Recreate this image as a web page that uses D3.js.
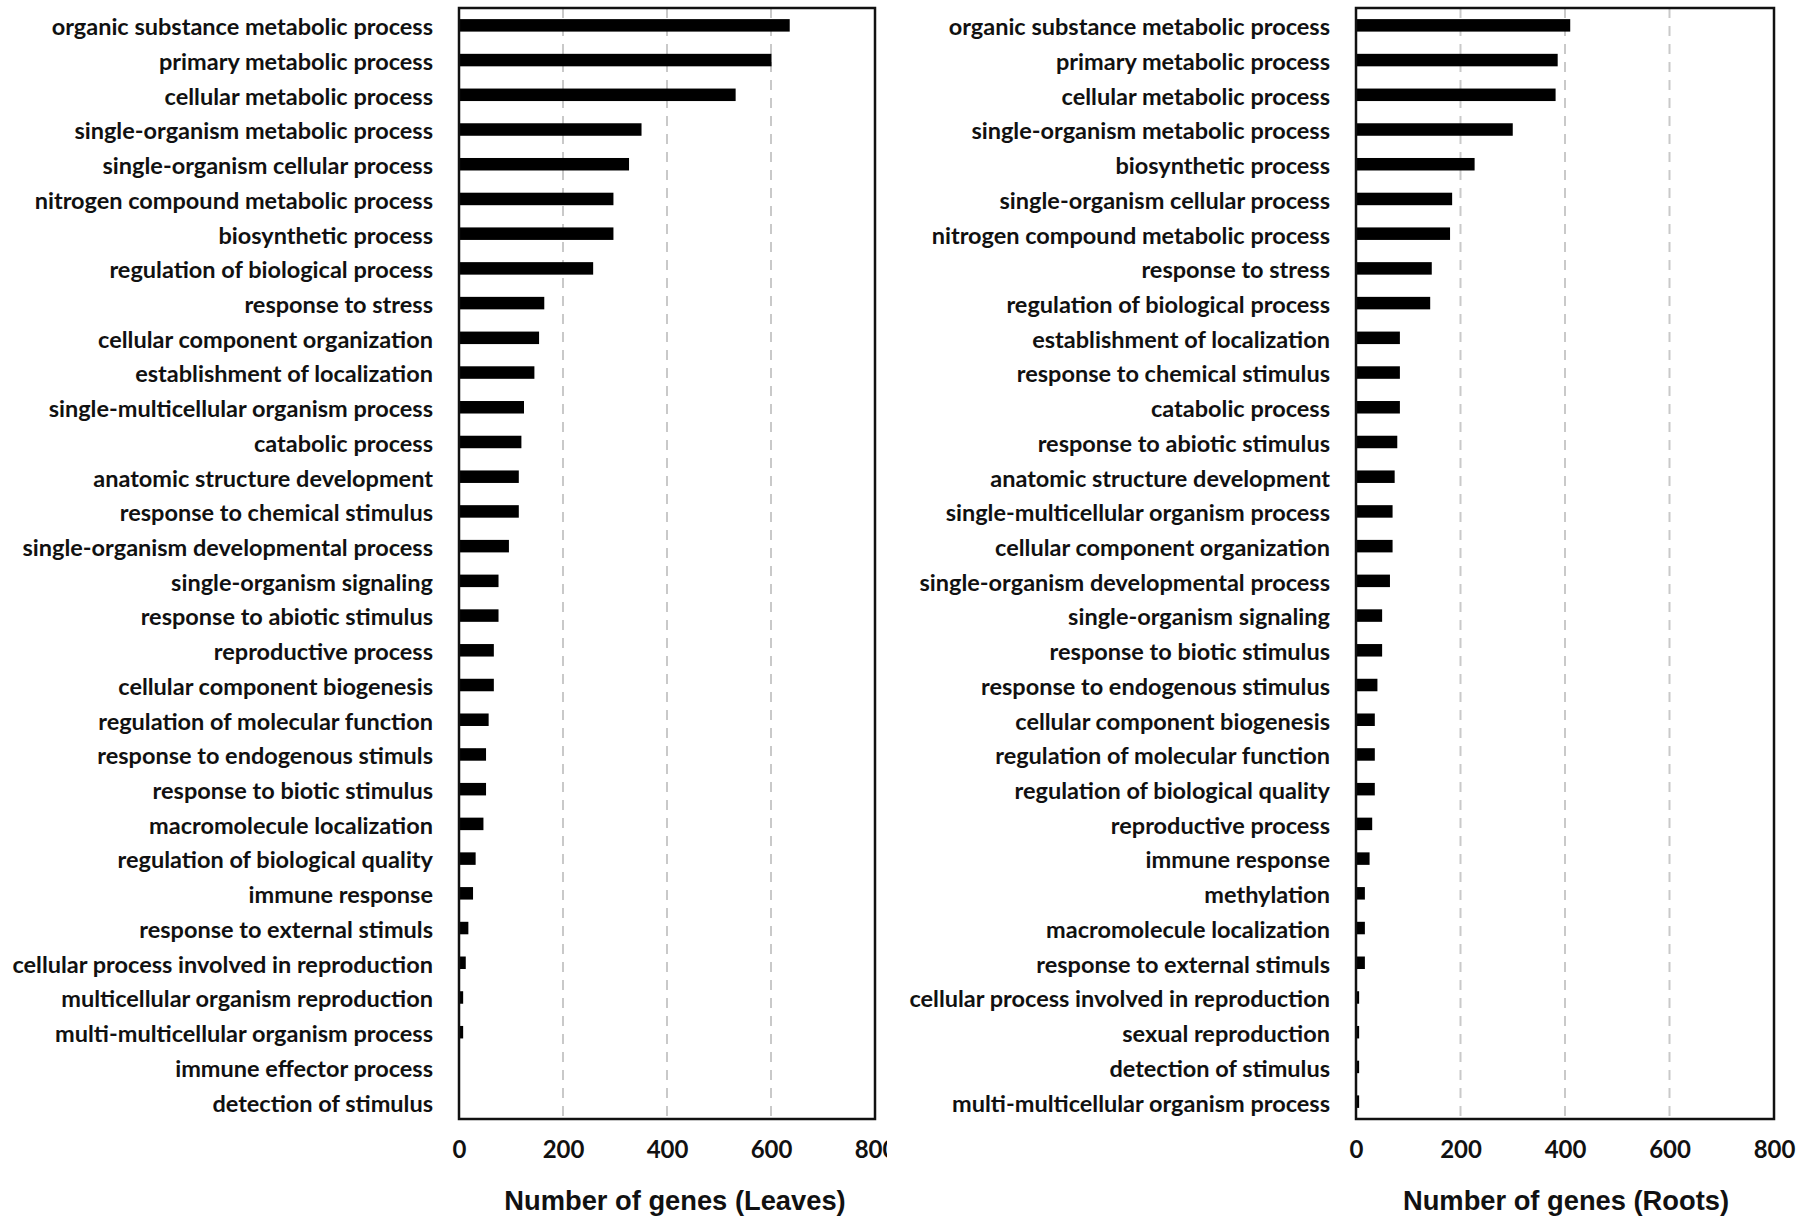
<!DOCTYPE html>
<html>
<head>
<meta charset="utf-8">
<script src="https://cdn.jsdelivr.net/npm/d3@7"></script>
<style>
  html, body { margin: 0; padding: 0; background: #fff; }
  svg { display: block; }
  .cat { font-family: Lato, "Open Sans", sans-serif; font-weight: 700; font-size: 23.5px; fill: #111; }
  .tick-lab { font-family: Lato, "Open Sans", sans-serif; font-weight: 700; font-size: 24px; fill: #111; }
  .ax-title { font-family: "Liberation Sans", Arial, sans-serif; font-weight: 700; font-size: 27.3px; fill: #111; }
</style>
</head>
<body>
<svg id="chart" width="1800" height="1221"></svg>
<script>
// ── Data ──────────────────────────────────────────────────────────────────
const leavesTerms = [
  'organic substance metabolic process', 'primary metabolic process', 'cellular metabolic process',
  'single-organism metabolic process', 'single-organism cellular process', 'nitrogen compound metabolic process',
  'biosynthetic process', 'regulation of biological process', 'response to stress',
  'cellular component organization', 'establishment of localization', 'single-multicellular organism process',
  'catabolic process', 'anatomic structure development', 'response to chemical stimulus',
  'single-organism developmental process', 'single-organism signaling', 'response to abiotic stimulus',
  'reproductive process', 'cellular component biogenesis', 'regulation of molecular function',
  'response to endogenous stimuls', 'response to biotic stimulus', 'macromolecule localization',
  'regulation of biological quality', 'immune response', 'response to external stimuls',
  'cellular process involved in reproduction', 'multicellular organism reproduction',
  'multi-multicellular organism process', 'immune effector process', 'detection of stimulus'
];
const leavesCounts = [636, 601, 532, 351, 327, 297, 297, 258, 164, 154, 145, 125, 120, 115, 115, 96,
  76, 76, 67, 67, 57, 52, 52, 47, 32, 27, 18, 13, 8, 8, 1, 1];

const rootsTerms = [
  'organic substance metabolic process', 'primary metabolic process', 'cellular metabolic process',
  'single-organism metabolic process', 'biosynthetic process', 'single-organism cellular process',
  'nitrogen compound metabolic process', 'response to stress', 'regulation of biological process',
  'establishment of localization', 'response to chemical stimulus', 'catabolic process',
  'response to abiotic stimulus', 'anatomic structure development', 'single-multicellular organism process',
  'cellular component organization', 'single-organism developmental process', 'single-organism signaling',
  'response to biotic stimulus', 'response to endogenous stimulus', 'cellular component biogenesis',
  'regulation of molecular function', 'regulation of biological quality', 'reproductive process',
  'immune response', 'methylation', 'macromolecule localization', 'response to external stimuls',
  'cellular process involved in reproduction', 'sexual reproduction', 'detection of stimulus',
  'multi-multicellular organism process'
];
const rootsCounts = [410, 386, 382, 300, 227, 184, 180, 145, 142, 84, 84, 84, 79, 74, 70, 70, 65,
  50, 50, 41, 36, 36, 36, 31, 26, 17, 17, 17, 6, 6, 6, 6];

const xTicks = [0, 200, 400, 600, 800];
const gridTicks = [200, 400, 600];

const panels = [
  { terms: leavesTerms, counts: leavesCounts, title: 'Number of genes (Leaves)', x0: 459, x1: 875, titleX: 675, clipRight: 887 },
  { terms: rootsTerms, counts: rootsCounts, title: 'Number of genes (Roots)', x0: 1356, x1: 1774, titleX: 1566, clipRight: 1800 }
];

const svg = d3.select('#chart');
const yTop = 8, yBottom = 1119;

panels.forEach((p, pi) => {
  const x = d3.scaleLinear().domain([0, 800]).range([p.x0, p.x1]);
  const y = d3.scaleBand().domain(p.terms).range([yTop, yBottom]).paddingInner(0.64).paddingOuter(0.32);

  const g = svg.append('g');

  // gridlines
  g.selectAll('.grid').data(gridTicks).enter().append('line')
    .attr('x1', d => x(d)).attr('x2', d => x(d))
    .attr('y1', yTop).attr('y2', yBottom)
    .attr('stroke', '#c9c9c9').attr('stroke-width', 2)
    .attr('stroke-dasharray', '10,8');

  // bars
  g.selectAll('.bar').data(p.terms).enter().append('rect')
    .attr('x', x(0))
    .attr('y', d => y(d))
    .attr('width', (d, i) => x(p.counts[i]) - x(0))
    .attr('height', y.bandwidth())
    .attr('fill', '#000');

  // frame
  g.append('rect')
    .attr('x', p.x0).attr('y', yTop)
    .attr('width', p.x1 - p.x0).attr('height', yBottom - yTop)
    .attr('fill', 'none').attr('stroke', '#111').attr('stroke-width', 2.5);

  // category labels
  g.selectAll('.cat').data(p.terms).enter().append('text')
    .attr('class', 'cat')
    .attr('x', p.x0 - 26)
    .attr('y', d => y(d) + y.bandwidth() / 2)
    .attr('dy', '0.42em')
    .attr('text-anchor', 'end')
    .text(d => d);

  // x axis tick labels (left panel is cut at its right edge)
  svg.append('clipPath').attr('id', 'clip' + pi)
    .append('rect').attr('x', 0).attr('y', 0).attr('width', p.clipRight).attr('height', 1221);

  const axis = d3.axisBottom(x).tickValues(xTicks).tickSize(0).tickPadding(0).tickFormat(d3.format('d'));
  const ax = svg.append('g')
    .attr('clip-path', `url(#clip${pi})`)
    .append('g')
    .attr('transform', `translate(0,${yBottom + 31})`)
    .call(axis);
  ax.select('.domain').remove();
  ax.selectAll('text').attr('class', 'tick-lab').attr('dy', '0.35em').attr('fill', null);

  // axis title
  svg.append('text')
    .attr('class', 'ax-title')
    .attr('x', p.titleX)
    .attr('y', 1200)
    .attr('dy', '0.35em')
    .attr('text-anchor', 'middle')
    .text(p.title);
});
</script>
</body>
</html>
